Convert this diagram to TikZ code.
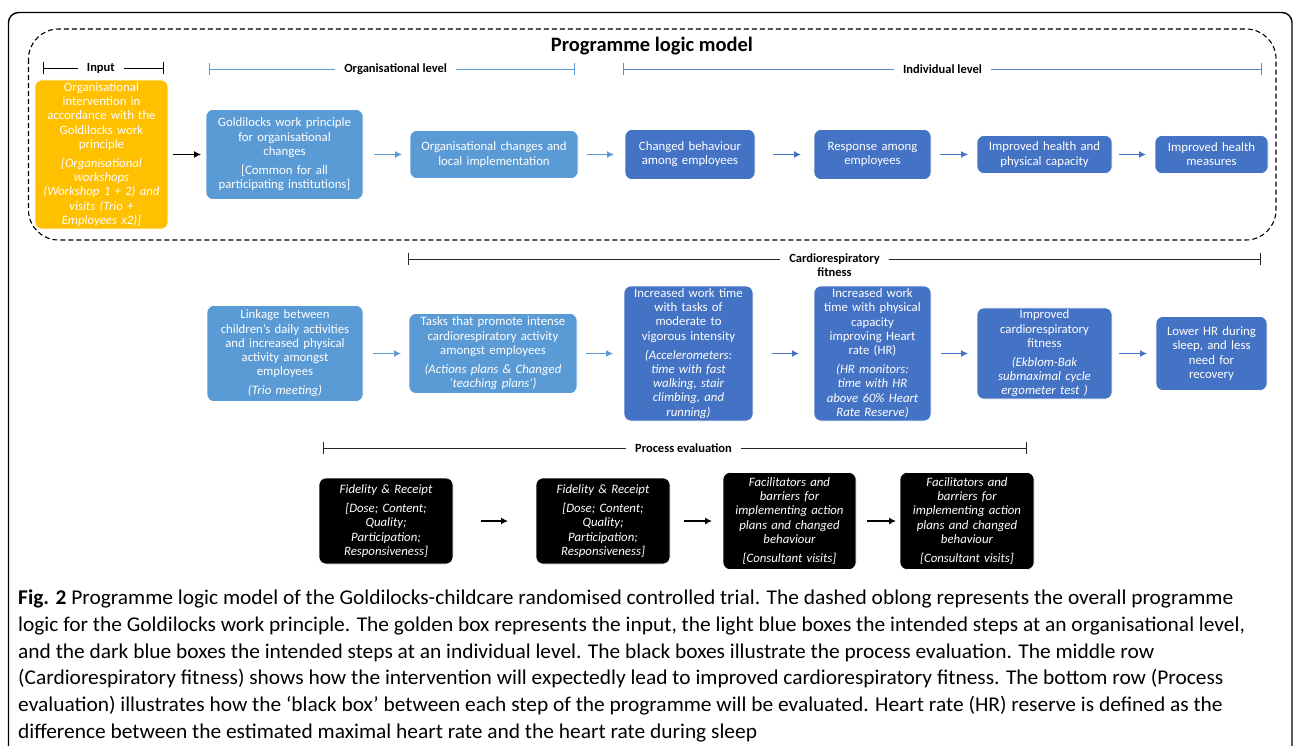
\documentclass[tikz,border=0pt]{standalone}
\usepackage{fontspec}
\setmainfont{Carlito}
\newfontfamily\capfont[FakeStretch=1.02]{Carlito}
\usepackage{tikz}
\usetikzlibrary{shapes.geometric, arrows, arrows.meta, positioning, calc}
\definecolor{GoldBox}{HTML}{FFC000}
\definecolor{LightBlue}{HTML}{5B9BD5}
\definecolor{DarkBlue}{HTML}{4472C4}

\begin{document}
\begin{tikzpicture}[x=1pt, y=-1pt, >={Latex[length=7pt,width=7pt]}]
    \tikzstyle{box} = [rectangle, rounded corners=7pt, align=center, inner xsep=0pt, inner ysep=2pt, outer sep=0pt, text=white, draw=white, line width=0.6pt, font=\fontsize{12.8}{14.2}\selectfont]
    \tikzstyle{gold} = [box, fill=GoldBox]
    \tikzstyle{light} = [box, fill=LightBlue]
    \tikzstyle{dark} = [box, fill=DarkBlue]
    \tikzstyle{blackbox} = [box, fill=black, font=\fontsize{12.8}{14.2}\selectfont\itshape]
    \tikzstyle{line} = [draw, ->, line width=1.3pt]
    \tikzstyle{bracket} = [draw, {Bar[width=12pt]}-{Bar[width=12pt]}, line width=0.9pt]
    \tikzstyle{lbl} = [fill=white, text=black, inner xsep=9pt, inner ysep=1pt, font=\fontsize{12.5}{14}\selectfont\bfseries]

    \useasboundingbox (0,0) rectangle (1295,746);
    \draw [line width=1.4pt, rounded corners=10pt] (8.5,760) -- (8.5,12.5) -- (1292,12.5) -- (1292,760);
    \draw [line width=1.1pt, dash pattern=on 5pt off 3pt, rounded corners=30pt] (28.5,29) rectangle (1276,240);
    \node [font=\fontsize{20.5}{24}\selectfont\bfseries] (title) at (652,46) {Programme logic model};

    % level brackets
    \coordinate (inL) at (42.5,68);   \coordinate (inR) at (164,68);
    \coordinate (orgL) at (209,69);   \coordinate (orgR) at (575,69);
    \coordinate (indL) at (623,69);   \coordinate (indR) at (1262,69);
    \coordinate (cardL) at (408,259); \coordinate (cardR) at (1261,259);
    \coordinate (procL) at (323,448); \coordinate (procR) at (1027,448);
    \path [bracket, black] (inL) -- node[lbl, pos=0.48] {Input} (inR);
    \path [bracket, LightBlue] (orgL) -- node[lbl, pos=0.51] {Organisational level} (orgR);
    \path [bracket, DarkBlue!85] (indL) -- node[lbl] {Individual level} (indR);
    \path [bracket, black!85] (cardL) -- (cardR);
    \node [lbl, align=center, anchor=north] (cardlbl) at (834.5,253) {Cardiorespiratory\\fitness};
    \path [bracket, black!85] (procL) -- node[lbl, pos=0.512] {Process evaluation} (procR);

    % top row
    \node [gold, text width=133pt, minimum height=149pt] (input) at (101.5,154.5) {Organisational\\intervention in\\accordance with the\\Goldilocks work\\principle\\[5pt]\itshape [Organisational\\workshops\\(Workshop 1 + 2) and\\visits (Trio +\\Employees x2)]};
    \node [light, right=38pt of input, text width=157pt, minimum height=90pt] (goldilocks) {Goldilocks work principle\\for organisational\\changes\\[5pt][Common for all\\participating institutions]};
    \node [light, right=47pt of goldilocks, text width=168pt, minimum height=48pt] (orgchange) {Organisational changes and\\local implementation};
    \node [dark, right=47pt of orgchange, text width=130pt, minimum height=50pt] (behaviour) {Changed behaviour\\among employees};
    \node [dark, right=59pt of behaviour, text width=117pt, minimum height=50pt] (response) {Response among\\employees};
    \node [dark, right=46pt of response, text width=135pt, minimum height=38pt] (health) {Improved health and\\physical capacity};
    \node [dark, right=43pt of health, text width=113pt, minimum height=38pt] (measures) {Improved health\\measures};

    % middle row
    \node [light, text width=156pt, minimum height=96pt] (linkage) at (285,353.5) {Linkage between\\children’s daily activities\\and increased physical\\activity amongst\\employees\\[5pt]\itshape (Trio meeting)};
    \node [light, right=46pt of linkage, text width=168pt, minimum height=80pt] (tasks) {Tasks that promote intense\\cardiorespiratory activity\\amongst employees\\[5pt]\itshape (Actions plans \& Changed\\‘teaching plans’)};
    \node [dark, right=47pt of tasks, text width=129pt, minimum height=135pt] (vigorous) {Increased work time\\with tasks of\\moderate to\\vigorous intensity\\[5pt]\itshape (Accelerometers:\\time with fast\\walking, stair\\climbing, and\\running)};
    \node [dark, right=61pt of vigorous, text width=117pt, minimum height=135pt] (hrtime) {Increased work\\time with physical\\capacity\\improving Heart\\rate (HR)\\[5pt]\itshape (HR monitors:\\time with HR\\above 60\% Heart\\Rate Reserve)};
    \node [dark, right=46pt of hrtime, text width=135pt, minimum height=87pt] (fitness) {Improved\\cardiorespiratory\\fitness\\[5pt]\itshape (Ekblom-Bak\\submaximal cycle\\ergometer test )};
    \node [dark, right=44pt of fitness, text width=111pt, minimum height=74pt] (recovery) {Lower HR during\\sleep, and less\\need for\\recovery};

    % bottom row
    \node [blackbox, text width=134pt, minimum height=86pt] (fid1) at (386,521) {Fidelity \& Receipt\\[5pt][Dose; Content;\\Quality;\\Participation;\\Responsiveness]};
    \node [blackbox, right=83pt of fid1, text width=134pt, minimum height=86pt] (fid2) {Fidelity \& Receipt\\[5pt][Dose; Content;\\Quality;\\Participation;\\Responsiveness]};
    \node [blackbox, right=53pt of fid2, text width=133pt, minimum height=97pt] (barr1) {Facilitators and\\barriers for\\implementing action\\plans and changed\\behaviour\\[5pt][Consultant visits]};
    \node [blackbox, right=44pt of barr1, text width=134pt, minimum height=97pt] (barr2) {Facilitators and\\barriers for\\implementing action\\plans and changed\\behaviour\\[5pt][Consultant visits]};

    \path [line, black, shorten <=5pt, shorten >=5pt] (input) -- (goldilocks);
    \path [line, LightBlue, shorten <=11pt, shorten >=8pt] (goldilocks) -- (orgchange);
    \path [line, LightBlue, shorten <=9pt, shorten >=11pt] (orgchange) -- (behaviour);
    \path [line, DarkBlue, shorten <=18pt, shorten >=13pt] (behaviour) -- (response);
    \path [line, DarkBlue, shorten <=9pt, shorten >=9pt] (response) -- (health);
    \path [line, DarkBlue, shorten <=7pt, shorten >=9pt] (health) -- (measures);

    \path [line, LightBlue, shorten <=10pt, shorten >=8pt] (linkage) -- (tasks);
    \path [line, LightBlue, shorten <=9pt, shorten >=11pt] (tasks) -- (vigorous);
    \path [line, DarkBlue, shorten <=19pt, shorten >=15pt] (vigorous) -- (hrtime);
    \path [line, DarkBlue, shorten <=10pt, shorten >=9pt] (hrtime) -- (fitness);
    \path [line, DarkBlue, shorten <=7pt, shorten >=9pt] (fitness) -- (recovery);

    \path [line, black, shorten <=28pt, shorten >=28pt] (fid1) -- (fid2);
    \path [line, black, shorten <=14pt, shorten >=11pt] (fid2) -- (barr1);
    \path [line, black, shorten <=11pt, shorten >=4pt] (barr1) -- (barr2);

    % caption
    \node [anchor=north west, align=left, inner sep=0pt, font=\capfont\fontsize{21}{26.8}\selectfont] (caption) at (18,589.5) {\textbf{Fig. 2} Programme logic model of the Goldilocks-childcare randomised controlled trial. The dashed oblong represents the overall programme\\
    logic for the Goldilocks work principle. The golden box represents the input, the light blue boxes the intended steps at an organisational level,\\
    and the dark blue boxes the intended steps at an individual level. The black boxes illustrate the process evaluation. The middle row\\
    (Cardiorespiratory fitness) shows how the intervention will expectedly lead to improved cardiorespiratory fitness. The bottom row (Process\\
    evaluation) illustrates how the ‘black box’ between each step of the programme will be evaluated. Heart rate (HR) reserve is defined as the\\
    difference between the estimated maximal heart rate and the heart rate during sleep};
\end{tikzpicture}
\end{document}
